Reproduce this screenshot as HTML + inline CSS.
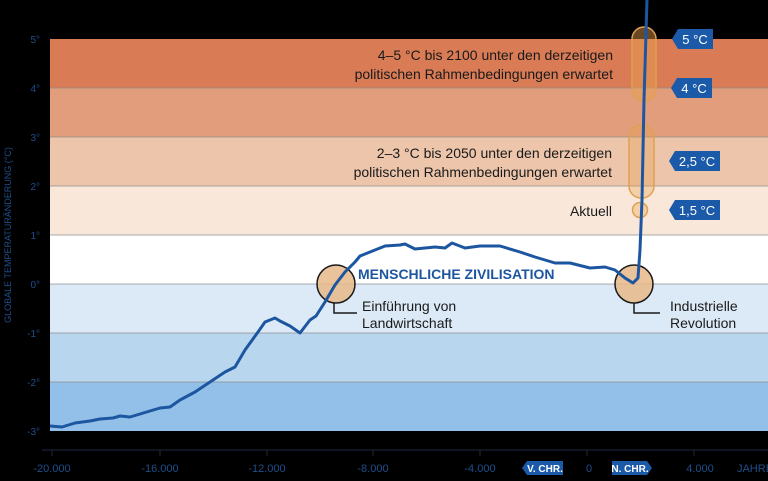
<!DOCTYPE html>
<html><head><style>
body{margin:0;background:#000;width:768px;height:476px;overflow:hidden;font-family:"Liberation Sans",sans-serif}
</style></head><body>
<svg width="768" height="476" viewBox="0 0 768 476" xmlns="http://www.w3.org/2000/svg" font-family="Liberation Sans, sans-serif">
<rect width="768" height="476" fill="#000"/>
<rect x="50" y="39" width="718" height="49" fill="#d97b55"/>
<rect x="50" y="88" width="718" height="49" fill="#e29d7c"/>
<rect x="50" y="137" width="718" height="49" fill="#ecc5ab"/>
<rect x="50" y="186" width="718" height="49" fill="#f9e8da"/>
<rect x="50" y="235" width="718" height="49" fill="#ffffff"/>
<rect x="50" y="284" width="718" height="49" fill="#dce9f6"/>
<rect x="50" y="333" width="718" height="49" fill="#b9d6ef"/>
<rect x="50" y="382" width="718" height="49" fill="#92c0e8"/>
<g stroke="#8a8a8a" stroke-width="1" opacity="0.7">
<line x1="50" y1="88" x2="768" y2="88"/><line x1="50" y1="137" x2="768" y2="137"/><line x1="50" y1="186" x2="768" y2="186"/><line x1="50" y1="235" x2="768" y2="235"/><line x1="50" y1="284" x2="768" y2="284"/><line x1="50" y1="333" x2="768" y2="333"/><line x1="50" y1="382" x2="768" y2="382"/>
</g>
<g fill="#1f4f8c" font-size="10" text-anchor="end">
<text x="40" y="43">5°</text><text x="40" y="92">4°</text><text x="40" y="141">3°</text><text x="40" y="190">2°</text><text x="40" y="239">1°</text><text x="40" y="288">0°</text><text x="40" y="337">-1°</text><text x="40" y="386">-2°</text><text x="40" y="435">-3°</text>
</g>
<text transform="translate(11,235) rotate(-90)" fill="#1f4f8c" font-size="9" text-anchor="middle">GLOBALE TEMPERATURÄNDERUNG (°C)</text>
<line x1="42" y1="450" x2="768" y2="450" stroke="#1c2a40"/>
<g stroke="#1c2a40"><line x1="52" y1="450" x2="52" y2="456"/><line x1="160" y1="450" x2="160" y2="456"/><line x1="267" y1="450" x2="267" y2="456"/><line x1="373" y1="450" x2="373" y2="456"/><line x1="480" y1="450" x2="480" y2="456"/><line x1="587" y1="450" x2="587" y2="456"/><line x1="694" y1="450" x2="694" y2="456"/></g>
<g fill="#1f4f8c" font-size="11" text-anchor="middle">
<text x="52" y="472">-20.000</text><text x="160" y="472">-16.000</text><text x="267" y="472">-12.000</text><text x="373" y="472">-8.000</text><text x="480" y="472">-4.000</text><text x="589" y="472">0</text><text x="700" y="472">4.000</text><text x="755" y="472">JAHRE</text>
</g>
<polygon points="522,468 527,461 563,461 563,475 527,475" fill="#1a5aa8"/>
<text x="545" y="472" fill="#fff" font-size="10" font-weight="bold" text-anchor="middle">V. CHR.</text>
<polygon points="612,461 647,461 652,468 647,475 612,475" fill="#1a5aa8"/>
<text x="630" y="472" fill="#fff" font-size="10" font-weight="bold" text-anchor="middle">N. CHR.</text>
<rect x="632" y="27" width="24" height="74" rx="12" fill="#e8a050" fill-opacity="0.45" stroke="#e0a050" stroke-width="1.5"/>
<rect x="629" y="125" width="25" height="73" rx="12" fill="#e8a050" fill-opacity="0.35" stroke="#e0a050" stroke-width="1.5"/>
<circle cx="640" cy="210" r="7.5" fill="#e8a050" fill-opacity="0.35" stroke="#e0a050" stroke-width="1.5"/>
<circle cx="336" cy="284" r="19" fill="#e8b888" fill-opacity="0.85" stroke="#1a1a1a" stroke-width="1.5"/>
<circle cx="634" cy="284" r="19" fill="#e8b888" fill-opacity="0.85" stroke="#1a1a1a" stroke-width="1.5"/>
<polyline points="334,303 334,313 357,313" fill="none" stroke="#1a1a1a" stroke-width="1.5"/>
<polyline points="634,303 634,313 660,313" fill="none" stroke="#1a1a1a" stroke-width="1.5"/>
<polyline fill="none" stroke="#1d56a0" stroke-width="3" stroke-linejoin="round" points="50,426 62,427 75,423 90,421 100,419 113,418 120,416 130,417 140,414 150,411 160,408 170,407 180,400 195,392 210,382 225,372 235,367 245,350 258,332 265,322 275,318 280,321 290,326 300,333 310,320 316,316 325,302 335,285 345,272 355,262 360,256 375,250 385,246 400,245 405,244 415,249 425,248 435,247 445,248 452,243 465,248 480,246 500,246 520,252 535,257 555,263 570,263 590,268 605,267 615,270 625,278 633,283 638,278 640,250 642,200 644,100 647,0"/>
<text x="358" y="279" fill="#1d56a0" font-size="14" font-weight="bold">MENSCHLICHE ZIVILISATION</text>
<g fill="#1a1a1a" font-size="14">
<text x="362" y="311">Einführung von</text><text x="362" y="328">Landwirtschaft</text>
<text x="670" y="311">Industrielle</text><text x="670" y="328">Revolution</text>
</g>
<g fill="#1a1a1a" font-size="14" text-anchor="end">
<text x="613" y="60">4–5 °C bis 2100 unter den derzeitigen</text>
<text x="613" y="79">politischen Rahmenbedingungen erwartet</text>
<text x="612" y="158">2–3 °C bis 2050 unter den derzeitigen</text>
<text x="612" y="177">politischen Rahmenbedingungen erwartet</text>
<text x="612" y="216">Aktuell</text>
</g>
<g fill="#1a5aa8">
<polygon points="672,39 678,29 713,29 713,49 678,49"/>
<polygon points="671,88 677,78 712,78 712,98 677,98"/>
<polygon points="669,161 675,151 720,151 720,171 675,171"/>
<polygon points="669,210 675,200 720,200 720,220 675,220"/>
</g>
<g fill="#fff" font-size="13" text-anchor="middle">
<text x="695" y="44">5 °C</text><text x="694" y="93">4 °C</text><text x="697" y="166">2,5 °C</text><text x="697" y="215">1,5 °C</text>
</g>
</svg>
</body></html>
